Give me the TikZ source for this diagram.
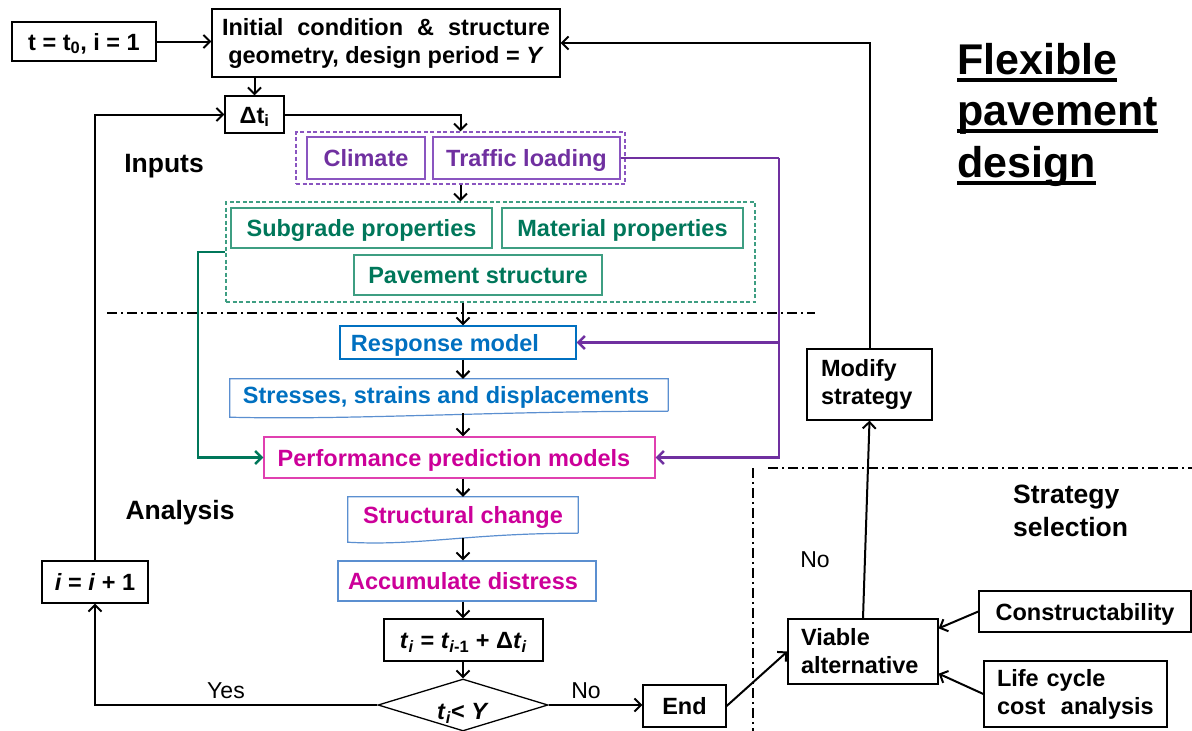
\documentclass[tikz,border=0pt]{standalone}
\usepackage{fontspec}
\setmainfont{Liberation Sans}
\usetikzlibrary{arrows.meta,shapes.geometric,calc}
\definecolor{ppl}{HTML}{7030A0}
\definecolor{pplb}{HTML}{8A55C0}
\definecolor{grn}{HTML}{00775A}
\definecolor{grnb}{HTML}{3E9E82}
\definecolor{blu}{HTML}{0070C0}
\definecolor{blub}{HTML}{5B8FD0}
\definecolor{mag}{HTML}{CC0099}
\definecolor{magb}{HTML}{E040B0}
\newcommand\myul[1]{\setbox0=\hbox{#1}\rlap{\rule[-7.5pt]{\wd0}{4pt}}\box0}
\tikzset{
  txt/.style={font=\fontsize{23.5}{28}\selectfont\bfseries, inner sep=0pt},
  one/.style={text height=17pt, text depth=0pt},
  lbl/.style={font=\fontsize{26.5}{33}\selectfont\bfseries, inner sep=0pt},
  plain/.style={font=\fontsize{23}{28}\selectfont, inner sep=0pt},
  ttl/.style={font=\fontsize{43}{51}\selectfont\bfseries, inner sep=0pt},
  bbox/.style={txt, draw=black, line width=1.3pt},
  pbx/.style={txt, one, text=ppl, draw=pplb, line width=1.2pt},
  gbx/.style={txt, one, text=grn, draw=grnb, line width=1.2pt},
  arr/.style={-{Straight Barb[length=6.5pt,width=13pt]}, line width=2pt},
  carr/.style={arr, line width=2.5pt},
  dashdot/.style={line width=1.6pt, dash pattern=on 10pt off 4pt on 2pt off 4pt},
  dbox/.style={line width=1.1pt, dash pattern=on 4pt off 2.5pt, inner sep=0pt},
}
\begin{document}
\begin{tikzpicture}[x=1pt,y=-1pt]
\useasboundingbox (0,0) rectangle (1192,731);

% top
\node[bbox, one, minimum width=144pt, minimum height=39pt] (t0) at (84,41.5) {t = t\textsubscript{0}, i = 1};
\node[bbox, minimum width=348pt, minimum height=68pt, align=center] (init) at (386,43)
  {\makebox[328pt][s]{Initial condition \& structure}\\geometry, design period = \textit{Y}};
\node[bbox, one, minimum width=59pt, minimum height=37pt] (dt) at (254.5,114.5) {Δt\textsubscript{i}};

% inputs
\node[lbl] (inputs) at (164,166) {Inputs};
\node[dbox, draw=pplb, minimum width=329pt, minimum height=52pt] (pbox) at (460.5,158) {};
\node[pbx, minimum width=118pt, minimum height=42pt] (clim) at (366,158) {Climate};
\node[pbx, minimum width=187pt, minimum height=42pt] (traffic) at (526.5,158) {Traffic loading};
\node[dbox, draw=grnb, minimum width=529pt, minimum height=100pt] (gbox) at (490.5,252) {};
\node[gbx, minimum width=261pt, minimum height=40pt] (sub) at (361.5,228) {Subgrade properties};
\node[gbx, minimum width=241pt, minimum height=40pt] (mat) at (622.5,228) {Material properties};
\node[gbx, minimum width=248pt, minimum height=40pt] (pav) at (478,275) {Pavement structure};

% analysis chain
\node[txt, one, text=blu, draw=blu, line width=1.2pt, minimum width=236pt, minimum height=33pt] (resp) at (458,342.5) {\hspace*{-26pt}Response model};
\node[txt, one, text=blu, minimum width=438pt, minimum height=32pt] (stress) at (449,395) {\hspace*{-6pt}Stresses, strains and displacements};
\draw[blub, line width=1.2pt] (stress.south east) -- (stress.north east) -- (stress.north west)
  -- ([yshift=-6pt]stress.south west) .. controls +(120,3) and +(-180,0) .. (stress.south east);
\node[txt, one, text=mag, draw=magb, line width=1.2pt, minimum width=391pt, minimum height=41pt] (perf) at (459.5,457.5) {\hspace*{-11pt}Performance prediction models};
\node[lbl] (analysis) at (180,513) {Analysis};
\node[txt, one, text=mag, minimum width=230pt, minimum height=36pt] (struct) at (463,515) {Structural change};
\draw[blub, line width=1.2pt] (struct.south east) -- (struct.north east) -- (struct.north west)
  -- ([yshift=-9pt]struct.south west) .. controls +(70,4) and +(-110,0) .. (struct.south east);
\node[txt, one, text=mag, draw=blub, line width=1.2pt, minimum width=258pt, minimum height=40pt] (accum) at (467,581) {\hspace*{-8pt}Accumulate distress};
\node[bbox, one, minimum width=159pt, minimum height=42pt] (ti) at (463.5,640)
  {\textit{t}\textsubscript{\textit{i}} = \textit{t}\textsubscript{\textit{i}-1} + Δ\textit{t}\textsubscript{\textit{i}}};
\node[draw, line width=1.3pt, diamond, aspect=3.27, minimum width=170pt, minimum height=52pt, inner sep=0pt] (dia) at (463,705) {};
\node[txt, one] (diatxt) at (463,711) {\textit{t}\textsubscript{\textit{i}}< \textit{Y}};
\node[bbox, one, minimum width=106pt, minimum height=42pt] (inc) at (95,582) {\textit{i} = \textit{i} + 1};
\node[plain] (yes) at (226,691) {Yes};
\node[plain] (no1) at (586,691) {No};

% strategy selection
\node[bbox, one, minimum width=83pt, minimum height=42pt] (end) at (684.5,706) {End};
\node[bbox, minimum height=65pt, align=left, text width=124pt, inner xsep=13pt] (viable) at (863,651.5) {Viable\\alternative};
\node[bbox, one, minimum width=212pt, minimum height=41pt] (constr) at (1085,611.5) {Constructability};
\node[bbox, minimum height=66pt, align=left, text width=157pt, inner xsep=13pt] (life) at (1075.5,694) {Life cycle\\cost~ analysis};
\node[bbox, minimum height=71pt, align=left, text width=97pt, inner xsep=14pt] (modify) at (869.5,384.5) {Modify\\strategy};
\node[lbl, align=left, anchor=north west] (strat) at (1013,485) {Strategy\\selection};
\node[plain] (no2) at (815,560) {No};

% title
\node[ttl, anchor=base west] (ti1) at (957,74) {\myul{Flexible}};
\node[ttl, anchor=base west] (ti2) at (957,125.5) {\myul{pavement}};
\node[ttl, anchor=base west] (ti3) at (957,177) {\myul{design}};

% separators
\draw[dashdot] (107,313) -- (815,313);
\draw[dashdot] (753,468) -- (753,731);
\draw[dashdot] (768,468) -- (1192,468);

% connectors
\coordinate (colx) at (463,0);
\draw[arr] (t0.east) -- (t0.east -| init.west);
\draw[arr] (init.south -| dt) -- (dt.north);
\draw[arr] (dt.east) -| (pbox.north);
\draw[arr] (pbox.south) -- (pbox.south |- gbox.north);
\draw[arr] (gbox.south -| colx) -- (resp.north -| colx);
\draw[arr] (resp.south -| colx) -- (stress.north -| colx);
\draw[arr] ([yshift=-2pt]stress.south -| colx) -- (perf.north -| colx);
\draw[arr] (perf.south -| colx) -- (struct.north -| colx);
\draw[arr] ([yshift=-5pt]struct.south -| colx) -- (accum.north -| colx);
\draw[arr] (accum.south -| colx) -- (ti.north -| colx);
\draw[arr] (ti.south -| colx) -- (dia.north);

\coordinate (pr) at (779,158);
\draw[ppl, line width=2.5pt] (traffic.east) -- (pr);
\draw[carr, ppl] (pr) |- (perf.east);
\draw[carr, ppl] (pr |- resp.east) -- (resp.east);
\coordinate (gl) at (198,252);
\draw[carr, grn] (gbox.west) -- (gl) |- (perf.west);

\draw[arr] (dia.west) -| (inc.south);
\draw[arr] (inc.north) |- (dt.west);
\draw[arr] (dia.east) -- (dia.east -| end.west);
\draw[arr] (end.east) -- (viable.west);
\draw[arr] (constr.west) -- ([yshift=-10pt]viable.north east);
\draw[arr] (life.west) -- ([yshift=11pt]viable.south east);
\draw[arr] (viable.north) -- (modify.south);
\draw[arr] (modify.north) |- (init.east);
\end{tikzpicture}
\end{document}
